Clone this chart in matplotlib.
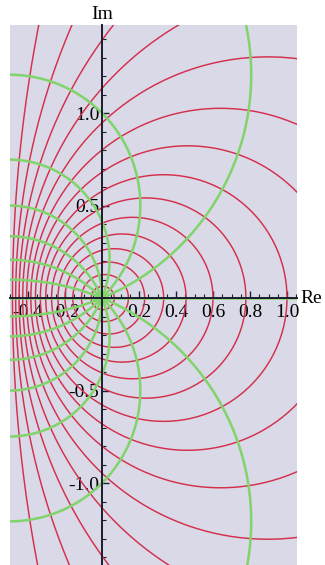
import numpy as np
import matplotlib.pyplot as plt
from matplotlib.ticker import MultipleLocator

# image of a polar grid of the unit disk under w = z/(1-z)
# red: circles |z| = r, green: rays arg z = theta
radii = [1/16, 2/16, 3/16, 4/16, 5/16, 6/16, 7/16, 8/16,
         9/16, 10/16, 11/16, 12/16, 13/16, 14/16, 15/16]
angles = [0, 22.5, 45, 67.5, 90, 112.5, 135, 157.5,
          180, 202.5, 225, 247.5, 270, 292.5, 315, 337.5]

xticks = [-0.4, -0.2, 0.2, 0.4, 0.6, 0.8, 1.0]
xlabels = ['-0.4', '-0.2', '0.2', '0.4', '0.6', '0.8', '1.0']
yticks = [-1.0, -0.5, 0.5, 1.0]
ylabels = ['-1.0', '-0.5', '0.5', '1.0']

red = '#d42f4b'
green = '#80d46a'
axcol = '#1c1c2c'

plt.rcParams['font.family'] = ['Liberation Serif', 'DejaVu Serif']


def f(z):
    return z / (1 - z)


W, H = 325, 565
fig = plt.figure(figsize=(W / 100, H / 100), dpi=100)
# pixel box of the plot area
scale = 185.0
x0, x1 = -0.5, 1.055
y0, y1 = -1.443, 1.476
left_px = 102 - 0.5 * scale
ax = fig.add_axes([left_px / W, 0, (x1 - x0) * scale / W, (y1 - y0) * scale / H])
ax.set_facecolor('#d9d9e8')

phi = np.linspace(0, 2 * np.pi, 400)
for r in radii:
    w = f(r * np.exp(1j * phi))
    ax.plot(w.real, w.imag, color=red, lw=1.05, zorder=2)

t = np.linspace(0, 0.999, 600)
for a in angles:
    w = f(t * np.exp(1j * np.deg2rad(a)))
    ax.plot(w.real, w.imag, color=green, lw=1.8, zorder=2.2)

ax.set_xlim(x0, x1)
ax.set_ylim(y0, y1)
ax.set_aspect('equal')

ax.spines['top'].set_visible(False)
ax.spines['right'].set_visible(False)
ax.spines['left'].set_position(('data', 0))
ax.spines['bottom'].set_position(('data', 0))
for s in ['left', 'bottom']:
    ax.spines[s].set_color(axcol)
    ax.spines[s].set_linewidth(1.4)
    ax.spines[s].set_zorder(3)

ax.set_xticks(xticks)
ax.set_xticklabels(xlabels)
ax.set_yticks(yticks)
ax.set_yticklabels(ylabels)
ax.xaxis.set_minor_locator(MultipleLocator(0.05))
ax.yaxis.set_minor_locator(MultipleLocator(0.1))
ax.tick_params(axis='both', which='major', direction='in', length=5, width=1,
               color=axcol, labelsize=14, labelcolor='black')
ax.tick_params(axis='both', which='minor', direction='in', length=3, width=0.8,
               color=axcol)
ax.tick_params(axis='x', which='major', pad=4)
ax.tick_params(axis='y', which='major', pad=2)

ax.text(0, y1 + 0.01, 'Im', ha='center', va='bottom', fontsize=14,
        clip_on=False)
ax.text(x1 + 0.02, 0, 'Re', ha='left', va='center', fontsize=14,
        clip_on=False)

fig.savefig('out.png', dpi=100)
